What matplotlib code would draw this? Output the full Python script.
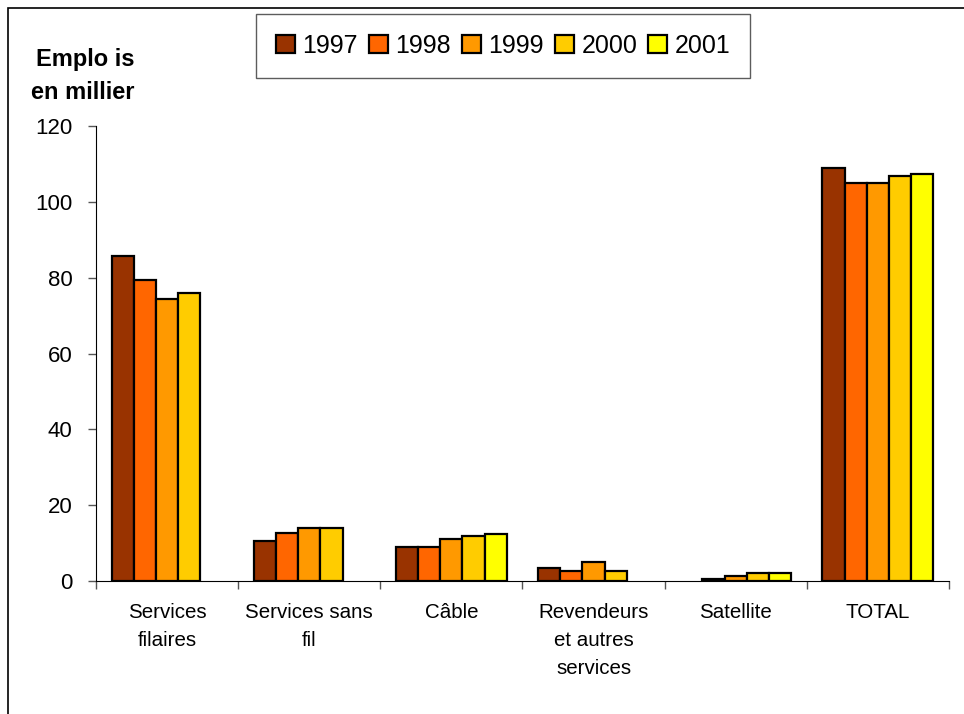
import numpy as np
from matplotlib import pyplot as plt
from matplotlib.patches import Rectangle

plt.rcParams['font.family'] = ['Liberation Sans', 'DejaVu Sans']

categories = ["Services\nfilaires", "Services sans\nfil", "Câble",
              "Revendeurs\net autres\nservices", "Satellite", "TOTAL"]
years = ["1997", "1998", "1999", "2000", "2001"]
nan = np.nan
v1997 = [85.7, 10.5, 9.0, 3.3, nan, 108.8]
v1998 = [79.3, 12.6, 9.0, 2.7, 0.5, 105.1]
v1999 = [74.4, 14.0, 11.1, 4.9, 1.2, 105.1]
v2000 = [75.9, 14.0, 11.8, 2.7, 2.0, 106.7]
v2001 = [nan, nan, 12.5, nan, 2.0, 107.3]
series = [v1997, v1998, v1999, v2000, v2001]
colors = ["#993300", "#FF6600", "#FF9900", "#FFCC00", "#FFFF00"]

fig = plt.figure(figsize=(9.64, 7.14), dpi=100)
ax = fig.add_axes([0.0996, 0.1863, 0.8848, 0.6372])

x = np.arange(len(categories))
w = 0.156
for i, vals in enumerate(series):
    vals = np.array(vals, dtype=float)
    ok = np.isfinite(vals)
    pos = x + (i - 2) * w
    ax.bar(pos[ok], vals[ok], width=w, color=colors[i], edgecolor='black',
           linewidth=1.6, label=years[i])

ax.set_xlim(-0.5, len(categories) - 0.5)
ax.set_ylim(0, 120)
ax.set_yticks([0, 20, 40, 60, 80, 100, 120])
ax.tick_params(axis='y', labelsize=16, length=6, width=1, color='#555555', pad=11)

ax.set_xticks(x)
ax.set_xticklabels(categories, fontsize=14.8, linespacing=1.6, va='top')
ax.tick_params(axis='x', which='major', length=0, pad=16)
ax.set_xticks(np.arange(len(categories) + 1) - 0.5, minor=True)
ax.tick_params(axis='x', which='minor', length=6, width=1, color='#555555')

ax.spines['top'].set_visible(False)
ax.spines['right'].set_visible(False)

fig.text(0.088, 0.916, "Emplo is", fontsize=17, fontweight='bold', ha='center', va='center')
fig.text(0.086, 0.870, "en millier", fontsize=17, fontweight='bold', ha='center', va='center')

leg = fig.legend(loc='center', bbox_to_anchor=(0.522, 0.936), ncol=5, fontsize=18,
                 handlelength=0.75, handleheight=0.75, handletextpad=0.3,
                 columnspacing=0.45, borderpad=0.8, frameon=True, fancybox=False)
leg.get_frame().set_edgecolor('#333333')
leg.get_frame().set_linewidth(1)

fig.patches.append(Rectangle((8 / 964, -0.1), 1.2, 1 - 8 / 714 + 0.1,
                             transform=fig.transFigure, fill=False,
                             edgecolor='black', linewidth=1.2))

fig.savefig("out.png", dpi=100)
